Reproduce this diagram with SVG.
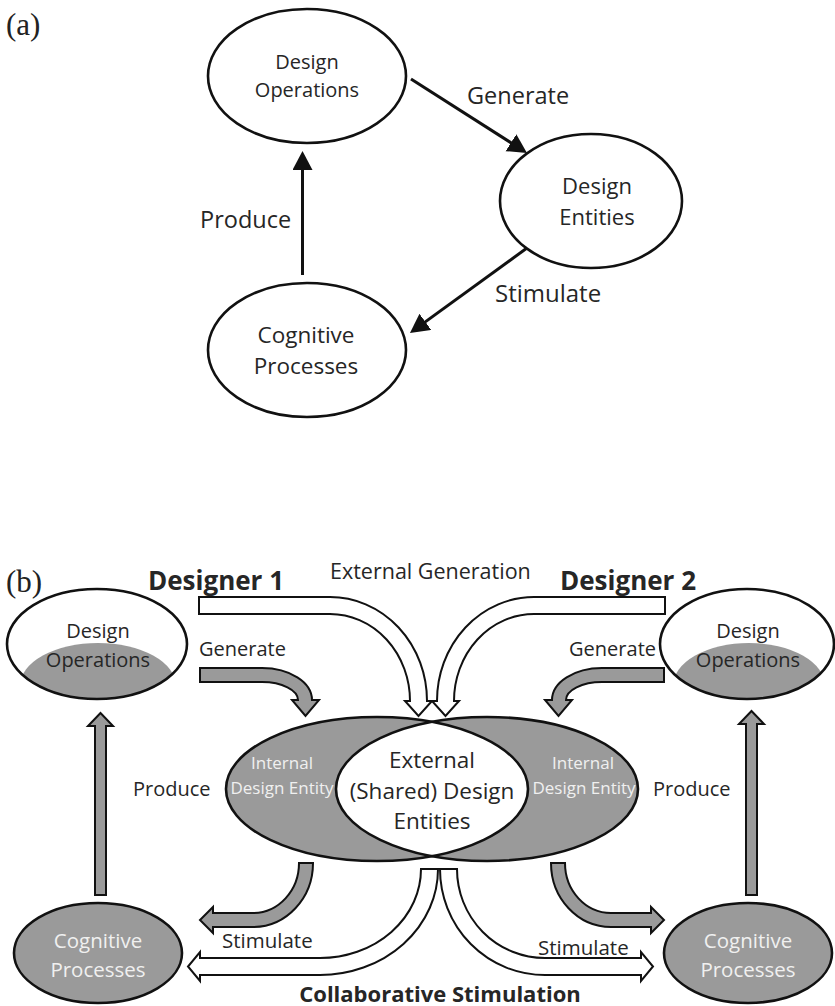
<svg xmlns="http://www.w3.org/2000/svg" width="835" height="1006" viewBox="0 0 835 1006">
<style>
.t{font-family:"Open Sans","Noto Sans","Liberation Sans",sans-serif;fill:#262626}
.w{font-family:"Open Sans","Noto Sans","Liberation Sans",sans-serif;fill:#f0f0f0}
.b{font-family:"Open Sans","Noto Sans","Liberation Sans",sans-serif;font-weight:bold;fill:#262626}
.lab{font-family:"Liberation Serif","Times New Roman",serif;fill:#222;font-size:31px}
.node{fill:#fff;stroke:#111;stroke-width:2.6}
.outline{fill:none;stroke:#111;stroke-width:2.6}
.gnode{fill:#9a9a9a;stroke:#111;stroke-width:2.6}
.gfill{fill:#9a9a9a}
.ga{fill:#9a9a9a;stroke:#111;stroke-width:2;stroke-linejoin:miter}
.wa{fill:#fff;stroke:#111;stroke-width:2;stroke-linejoin:miter}
.ln{stroke:#111;stroke-width:3;fill:none}
.c{text-anchor:middle}
</style>
<defs>
<marker id="ah" markerUnits="userSpaceOnUse" markerWidth="22" markerHeight="22" refX="15" refY="10" orient="auto">
<path d="M0,0 L19,10 L0,20 Z" fill="#111"/>
</marker>
<clipPath id="clipDO1"><ellipse cx="97" cy="644" rx="90" ry="55"/></clipPath>
<clipPath id="clipDO2"><ellipse cx="747" cy="644" rx="87" ry="55"/></clipPath>
<clipPath id="clipVL"><ellipse cx="377" cy="789" rx="151" ry="72"/></clipPath>
</defs>

<text class="lab" x="6" y="35">(a)</text>
<text class="lab" x="6" y="592">(b)</text>

<!-- Part (a) nodes -->
<g id="a-design-operations">
<ellipse class="node" cx="307" cy="76" rx="99" ry="67"/>
<text class="t c" x="307" y="69" font-size="20">Design</text>
<text class="t c" x="307" y="97" font-size="20">Operations</text>
</g>
<g id="a-design-entities">
<ellipse class="node" cx="591" cy="201" rx="91" ry="67"/>
<text class="t c" x="597" y="194" font-size="22">Design</text>
<text class="t c" x="597" y="225" font-size="22">Entities</text>
</g>
<g id="a-cognitive-processes">
<ellipse class="node" cx="307" cy="350" rx="99" ry="67"/>
<text class="t c" x="306" y="343" font-size="22.5">Cognitive</text>
<text class="t c" x="306" y="374" font-size="22.5">Processes</text>
</g>

<!-- Part (a) connectors -->
<g id="a-connectors">
<line class="ln" x1="411" y1="79" x2="523.6" y2="150.8" marker-end="url(#ah)"/>
<line class="ln" x1="527" y1="248" x2="413.2" y2="330.6" marker-end="url(#ah)"/>
<line class="ln" x1="302.5" y1="275" x2="302.5" y2="155" marker-end="url(#ah)"/>
<text class="t" x="467" y="104" font-size="23.5">Generate</text>
<text class="t" x="495" y="302" font-size="24">Stimulate</text>
<text class="t" x="200" y="228" font-size="23.5">Produce</text>
</g>

<!-- Part (b) headings -->
<text class="b" x="148" y="590" font-size="26">Designer 1</text>
<text class="b" x="560" y="590" font-size="26">Designer 2</text>

<!-- Part (b) nodes -->
<g id="b-design-operations-1">
<ellipse cx="97" cy="644" rx="90" ry="55" fill="#fff"/>
<ellipse class="gfill" cx="98" cy="686" rx="78" ry="43" clip-path="url(#clipDO1)"/>
<ellipse class="outline" cx="97" cy="644" rx="90" ry="55"/>
<text class="t c" x="98" y="638" font-size="20">Design</text>
<text class="t c" x="98" y="667" font-size="20">Operations</text>
</g>
<g id="b-design-operations-2">
<ellipse cx="747" cy="644" rx="87" ry="55" fill="#fff"/>
<ellipse class="gfill" cx="749" cy="686" rx="76" ry="43" clip-path="url(#clipDO2)"/>
<ellipse class="outline" cx="747" cy="644" rx="87" ry="55"/>
<text class="t c" x="748" y="638" font-size="20">Design</text>
<text class="t c" x="748" y="667" font-size="20">Operations</text>
</g>
<g id="b-design-entities">
<ellipse class="gfill" cx="377" cy="789" rx="151" ry="72"/>
<ellipse class="gfill" cx="487" cy="789" rx="151" ry="72"/>
<ellipse cx="487" cy="789" rx="151" ry="72" fill="#fff" clip-path="url(#clipVL)"/>
<ellipse class="outline" cx="377" cy="789" rx="151" ry="72"/>
<ellipse class="outline" cx="487" cy="789" rx="151" ry="72"/>
<text class="w c" x="282" y="769" font-size="17">Internal</text>
<text class="w c" x="282" y="794" font-size="17">Design Entity</text>
<text class="w c" x="583" y="769" font-size="17">Internal</text>
<text class="w c" x="584" y="794" font-size="17">Design Entity</text>
<text class="t c" x="432" y="768" font-size="22.5">External</text>
<text class="t c" x="432" y="799" font-size="22.5">(Shared) Design</text>
<text class="t c" x="432" y="829" font-size="22.5">Entities</text>
</g>
<g id="b-cognitive-processes-1">
<ellipse class="gnode" cx="98" cy="953" rx="84" ry="50"/>
<text class="w c" x="98" y="948" font-size="20.5">Cognitive</text>
<text class="w c" x="98" y="977" font-size="20.5">Processes</text>
</g>
<g id="b-cognitive-processes-2">
<ellipse class="gnode" cx="748" cy="953" rx="84" ry="50"/>
<text class="w c" x="748" y="948" font-size="20.5">Cognitive</text>
<text class="w c" x="748" y="977" font-size="20.5">Processes</text>
</g>

<!-- Part (b) connectors -->
<g id="b-connectors">
<path class="wa" d="M199,597 H330 A97,104 0 0 1 427,701 H432 L418.5,716 L405,701 H410 A80,87 0 0 0 330,614 H199 Z"/>
<path class="wa" d="M665,597 H534 A97,104 0 0 0 437,701 H432 L445.5,716 L459,701 H454 A80,87 0 0 1 534,614 H665 Z"/>
<path class="ga" d="M200,668 H262 A50,32 0 0 1 312,700 H319 L305.5,716 L292,700 H298 A36,18 0 0 0 262,682 H200 Z"/>
<path class="ga" d="M664,668 H602 A50,32 0 0 0 552,700 H545 L558.5,716 L572,700 H566 A36,18 0 0 1 602,682 H664 Z"/>
<path class="ga" d="M95,895 V726 H88 L100.5,713 L113,726 H106 V895 Z"/>
<path class="ga" d="M746,895 V724 H739 L751.5,711 L764,724 H757 V895 Z"/>
<path class="ga" d="M313,863 A60,64 0 0 1 253,927 H213 V933 L200,920 L213,907 V913 H253 A46,50 0 0 0 299,863 Z"/>
<path class="ga" d="M551,863 A60,64 0 0 0 611,927 H651 V933 L664,920 L651,907 V913 H611 A46,50 0 0 1 565,863 Z"/>
<path class="wa" d="M438,869 A118,106 0 0 1 320,975 H200 V981 L188,966.5 L200,952 V958 H320 A101,89 0 0 0 421,869 Z"/>
<path class="wa" d="M440,869 A105,106 0 0 0 545,975 H641 V981 L653,966.5 L641,952 V958 H545 A88,89 0 0 1 457,869 Z"/>
<text class="t" x="330" y="579" font-size="21.5">External Generation</text>
<text class="t" x="199" y="656" font-size="20">Generate</text>
<text class="t" x="656" y="656" font-size="20" text-anchor="end">Generate</text>
<text class="t" x="133" y="796" font-size="20">Produce</text>
<text class="t" x="653" y="796" font-size="20">Produce</text>
<text class="t" x="222" y="948" font-size="20.5">Stimulate</text>
<text class="t" x="538" y="955" font-size="20.5">Stimulate</text>
<text class="b" x="440" y="1002" font-size="22" text-anchor="middle">Collaborative Stimulation</text>
</g>
</svg>
